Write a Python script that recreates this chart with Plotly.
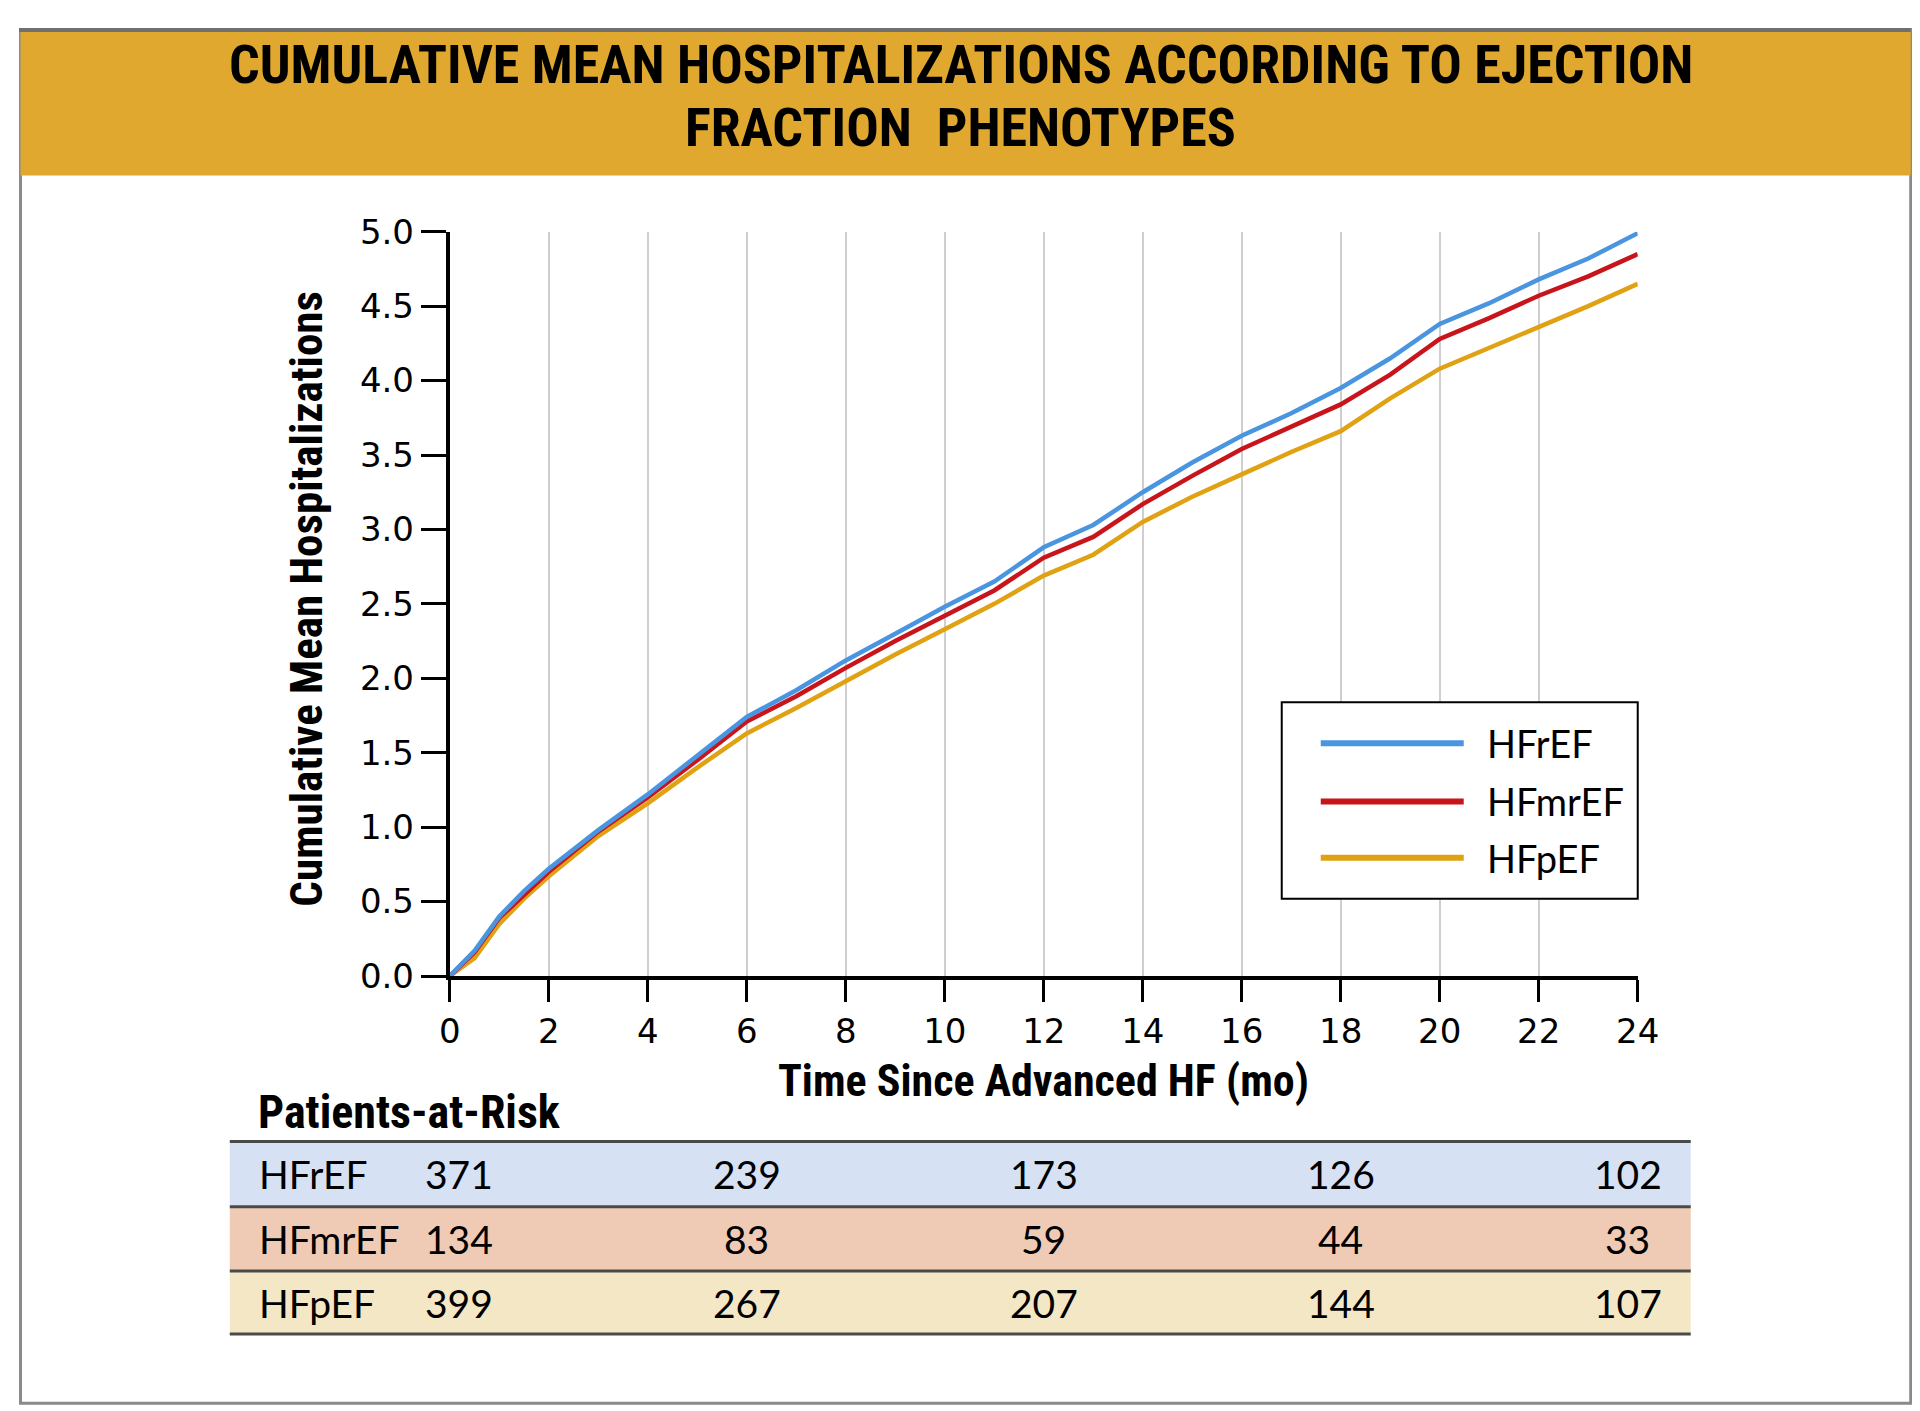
import plotly.graph_objects as go

# ---------------- data ----------------
months = [0, 0.5, 1, 1.5, 2, 3, 4, 5, 6, 7, 8, 9, 10, 11, 12, 13, 14, 15, 16, 17, 18, 19, 20, 21, 22, 23, 24]
hfref  = [0, 0.17, 0.40, 0.57, 0.72, 0.98, 1.22, 1.48, 1.74, 1.92, 2.12, 2.30, 2.48, 2.65, 2.88, 3.03, 3.25, 3.45, 3.63, 3.78, 3.95, 4.15, 4.38, 4.52, 4.68, 4.82, 4.99]
hfmref = [0, 0.16, 0.39, 0.55, 0.70, 0.97, 1.20, 1.45, 1.71, 1.88, 2.07, 2.25, 2.42, 2.59, 2.81, 2.95, 3.17, 3.36, 3.54, 3.69, 3.84, 4.04, 4.28, 4.42, 4.57, 4.70, 4.85]
hfpef  = [0, 0.12, 0.35, 0.52, 0.67, 0.94, 1.16, 1.40, 1.63, 1.80, 1.98, 2.16, 2.33, 2.50, 2.69, 2.83, 3.05, 3.22, 3.37, 3.52, 3.66, 3.88, 4.08, 4.22, 4.36, 4.50, 4.65]

series_names = ["HFrEF", "HFmrEF", "HFpEF"]
series_colors = ["#4A95E0", "#C8141B", "#E0A213"]

risk_months = [0, 6, 12, 18, 24]
risk_hfref  = [371, 239, 173, 126, 102]
risk_hfmref = [134, 83, 59, 44, 33]
risk_hfpef  = [399, 267, 207, 144, 107]
risk_row_colors = ["#D6E2F4", "#EFCBB6", "#F4E7C5"]

x_ticks = list(range(0, 25, 2))
y_ticks = [0, 0.5, 1, 1.5, 2, 2.5, 3, 3.5, 4, 4.5, 5]

title_lines = ["CUMULATIVE MEAN HOSPITALIZATIONS ACCORDING TO EJECTION", "FRACTION  PHENOTYPES"]

# ---------------- layout helpers ----------------
# target picture position R -> figure pixel f  (R = S*f + A, measured)
SX, AX = 0.983, 18.2
SY, AY = 0.969, 30.9
W, H = 1936, 1428
def px(R):
    return max(0.0, (R - AX) / SX) / W
def py(R):
    return 1 - max(0.0, (R - AY) / SY) / H

COND = "Roboto, Liberation Sans, sans-serif"
REG = "Lato, Open Sans, sans-serif"
TICK = "DejaVu Sans, sans-serif"

def cond(t, ls=0):
    return '<span style="font-stretch:condensed;letter-spacing:%dpx">%s</span>' % (ls, t)

fig = go.Figure()
for name, ys, col in list(zip(series_names, [hfref, hfmref, hfpef], series_colors))[::-1]:
    fig.add_trace(go.Scatter(x=months, y=ys, mode="lines", name=name,
                             line=dict(color=col, width=4.5), showlegend=False))

shapes = []
annotations = []

# outer frame and banner
shapes.append(dict(type="rect", xref="paper", yref="paper", x0=px(10) + 0.0008, x1=px(1910), y0=py(1402), y1=py(10) - 0.001,
                   line=dict(color="#8A8A8A", width=3), fillcolor="white", layer="below"))
shapes.append(dict(type="rect", xref="paper", yref="paper", x0=px(10) + 0.0008, x1=px(1910), y0=py(178), y1=py(10) - 0.001,
                   line=dict(width=0), fillcolor="#E0A82E", layer="below"))
shapes.append(dict(type="line", xref="paper", yref="paper", x0=px(10), x1=px(1910), y0=py(10) - 0.0015, y1=py(10) - 0.0015,
                   line=dict(color="#707070", width=4)))

for i, t in enumerate(title_lines):
    annotations.append(dict(text=cond(t, 0), xref="paper", yref="paper", x=px(960), y=py(67 + 63 * i),
                            xanchor="center", yanchor="middle", showarrow=False,
                            font=dict(family=COND, size=54, color="black", weight="bold")))

# axis titles
annotations.append(dict(text=cond("Cumulative Mean Hospitalizations"), xref="paper", yref="paper",
                        x=px(306), y=py(600), textangle=-90, showarrow=False,
                        xanchor="center", yanchor="middle",
                        font=dict(family=COND, size=45, color="black", weight="bold")))
annotations.append(dict(text=cond("Time Since Advanced HF (mo)"), xref="paper", yref="paper",
                        x=px(1043), y=py(1081), showarrow=False, xanchor="center", yanchor="middle",
                        font=dict(family=COND, size=44, color="black", weight="bold")))

# legend (custom box)
shapes.append(dict(type="rect", xref="paper", yref="paper", x0=px(1281), x1=px(1637), y0=py(899), y1=py(703),
                   line=dict(color="black", width=2), fillcolor="white", layer="above"))
for i, (name, col) in enumerate(zip(series_names, series_colors)):
    yy = [744, 802, 858][i]
    shapes.append(dict(type="line", xref="paper", yref="paper", x0=px(1320), x1=px(1463), y0=py(yy), y1=py(yy),
                       line=dict(color=col, width=6), layer="above"))
    annotations.append(dict(text=name, xref="paper", yref="paper", x=px(1484), y=py(yy),
                            xanchor="left", yanchor="middle", showarrow=False,
                            font=dict(family=REG, size=38, color="black")))

# patients at risk table
annotations.append(dict(text=cond("Patients-at-Risk"), xref="paper", yref="paper", x=px(255), y=py(1112),
                        xanchor="left", yanchor="middle", showarrow=False,
                        font=dict(family=COND, size=46, color="black", weight="bold")))
row_tops = [1141, 1206, 1270]
row_bot = 1333
for i, (name, vals, col) in enumerate(zip(series_names, [risk_hfref, risk_hfmref, risk_hfpef], risk_row_colors)):
    top = row_tops[i]
    bot = row_tops[i + 1] if i + 1 < len(row_tops) else row_bot
    shapes.append(dict(type="rect", xref="paper", yref="paper", x0=px(229), x1=px(1690), y0=py(bot), y1=py(top),
                       line=dict(width=0), fillcolor=col, layer="below"))
    yc = (top + bot) / 2
    annotations.append(dict(text=name, xref="paper", yref="paper", x=px(256), y=py(yc),
                            xanchor="left", yanchor="middle", showarrow=False,
                            font=dict(family=REG, size=39, color="black")))
    for j, (m, v) in enumerate(zip(risk_months, vals)):
        shift = 9 if j == 0 else (-10 if j == len(risk_months) - 1 else 0)
        annotations.append(dict(text=str(v), xref="x", yref="paper", x=m, y=py(yc), xshift=shift,
                                xanchor="center", yanchor="middle", showarrow=False,
                                font=dict(family=REG, size=39, color="black")))
for yl in [1141, 1206, 1270, 1333]:
    shapes.append(dict(type="line", xref="paper", yref="paper", x0=px(229), x1=px(1690), y0=py(yl), y1=py(yl),
                       line=dict(color="#4A4A4A", width=3)))

fig.update_layout(
    width=W, height=H,
    margin=dict(l=0, r=0, t=0, b=0),
    paper_bgcolor="white", plot_bgcolor="white",
    shapes=shapes, annotations=annotations,
    showlegend=False,
    xaxis=dict(domain=[px(449), px(1637)], range=[0, 24], tickvals=x_ticks,
               ticktext=[str(v) for v in x_ticks],
               showgrid=True, gridcolor="#CFCFCF", gridwidth=2,
               showline=True, linecolor="black", linewidth=4,
               ticks="outside", ticklen=22, tickwidth=3, tickcolor="black",
               tickfont=dict(family=TICK, size=34, color="black"), zeroline=False),
    yaxis=dict(domain=[py(976), py(234)], range=[0, 5], tickvals=y_ticks,
               ticktext=["%.1f" % v for v in y_ticks],
               showgrid=False, showline=True, linecolor="black", linewidth=4,
               ticks="outside", ticklen=25, tickwidth=3, tickcolor="black",
               tickfont=dict(family=TICK, size=34, color="black"), zeroline=False),
)

fig.write_html("out.html")
